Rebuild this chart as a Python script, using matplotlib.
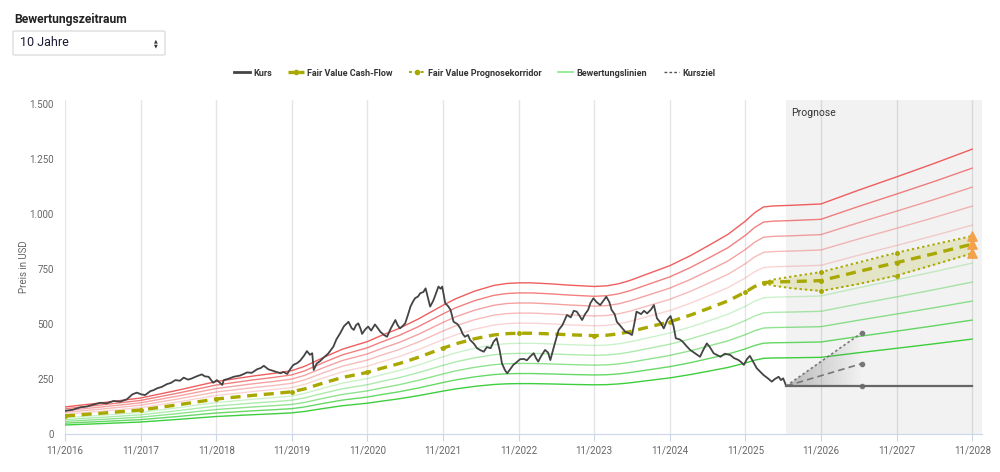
import matplotlib
matplotlib.use("Agg")
import matplotlib.pyplot as plt
from matplotlib.lines import Line2D
from matplotlib.patches import FancyBboxPatch, Polygon
import numpy as np

plt.rcParams['font.family'] = ['Roboto', 'DejaVu Sans']

# Kurs (Jahr als Dezimalzahl, Preis in USD)
kurs_jahr = [2016.83, 2016.93, 2017.03, 2017.12, 2017.20, 2017.30, 2017.38, 2017.47, 2017.56, 2017.65,
             2017.72, 2017.78, 2017.84, 2017.89, 2017.96, 2018.00, 2018.05, 2018.11, 2018.18, 2018.23,
             2018.29, 2018.35, 2018.40, 2018.46, 2018.51, 2018.57, 2018.64, 2018.68, 2018.73, 2018.79,
             2018.84, 2018.91, 2018.93, 2019.00, 2019.06, 2019.15, 2019.24, 2019.30, 2019.37, 2019.42,
             2019.46, 2019.52, 2019.60, 2019.68, 2019.72, 2019.77, 2019.81, 2019.85, 2019.90, 2019.94,
             2019.99, 2020.03, 2020.07, 2020.10, 2020.12, 2020.16, 2020.20, 2020.25, 2020.31, 2020.38,
             2020.42, 2020.47, 2020.52, 2020.58, 2020.62, 2020.65, 2020.68, 2020.71, 2020.74, 2020.76,
             2020.80, 2020.84, 2020.88, 2020.93, 2020.97, 2021.00, 2021.05, 2021.09, 2021.14, 2021.20,
             2021.23, 2021.26, 2021.30, 2021.33, 2021.37, 2021.40, 2021.43, 2021.46, 2021.50, 2021.53,
             2021.57, 2021.60, 2021.63, 2021.66, 2021.70, 2021.73, 2021.77, 2021.80, 2021.82, 2021.86,
             2021.90, 2021.93, 2021.97, 2022.02, 2022.06, 2022.09, 2022.12, 2022.16, 2022.19, 2022.24,
             2022.28, 2022.33, 2022.37, 2022.41, 2022.46, 2022.50, 2022.54, 2022.58, 2022.61, 2022.65,
             2022.68, 2022.72, 2022.76, 2022.80, 2022.85, 2022.90, 2022.94, 2022.98, 2023.03, 2023.06,
             2023.09, 2023.13, 2023.18, 2023.22, 2023.25, 2023.30, 2023.36, 2023.41, 2023.47, 2023.52,
             2023.56, 2023.60, 2023.64, 2023.67, 2023.71, 2023.75, 2023.78, 2023.82, 2023.86, 2023.91,
             2023.95, 2023.99, 2024.03, 2024.06, 2024.10, 2024.13, 2024.18, 2024.24, 2024.28, 2024.33,
             2024.36, 2024.39, 2024.45, 2024.49, 2024.53, 2024.58, 2024.62, 2024.66, 2024.71, 2024.75,
             2024.80, 2024.84, 2024.88, 2024.91, 2024.96, 2025.00, 2025.05, 2025.10, 2025.15, 2025.23,
             2025.27, 2025.32, 2025.36, 2025.41, 2025.45, 2025.50, 2025.56, 2025.63, 2025.68, 2025.74,
             2025.78, 2025.81, 2025.85, 2025.89, 2025.93, 2025.98, 2026.02, 2026.07, 2026.12, 2026.18,
             2026.22, 2026.27, 2026.30, 2026.33, 2026.37]
kurs_preis = [105, 110, 121, 125, 133, 142, 139, 150, 147, 158,
              180, 188, 180, 177, 195, 199, 208, 214, 227, 232,
              245, 242, 256, 247, 253, 262, 271, 262, 260, 233,
              245, 223, 245, 252, 260, 266, 280, 278, 294, 300,
              310, 294, 285, 276, 282, 273, 295, 314, 322, 333,
              355, 377, 360, 367, 291, 321, 330, 347, 365, 397,
              430, 458, 490, 510, 482, 473, 495, 503, 478, 455,
              475, 488, 470, 498, 480, 465, 450, 442, 480, 518,
              495, 480, 492, 503, 545, 579, 600, 617, 625, 640,
              645, 662, 620, 579, 605, 632, 670, 660, 670, 594,
              580, 564, 510, 500, 480, 455, 442, 450, 427, 410,
              390, 380, 374, 395, 390, 420, 435, 380, 321, 290,
              276, 295, 314, 325, 340, 341, 335, 351, 367, 345,
              329, 355, 382, 370, 336, 400, 473, 495, 541, 530,
              560, 556, 535, 518, 545, 564, 595, 617, 600, 586,
              605, 624, 600, 564, 545, 510, 490, 465, 460, 450,
              500, 556, 545, 560, 548, 565, 586, 526, 505, 480,
              520, 536, 490, 435, 430, 420, 400, 382, 370, 351,
              380, 412, 395, 367, 360, 351, 365, 359, 345, 336,
              325, 314, 340, 355, 330, 299, 285, 268, 255, 238,
              250, 260, 245, 253, 218]

# Fair Value Cash-Flow (historisch)
fv_jahr = [2016.83, 2017.33, 2017.83, 2018.33, 2018.83, 2019.33, 2019.6, 2019.83, 2020.0,
           2020.12, 2020.25, 2020.5, 2020.83, 2021.0, 2021.25, 2021.5, 2021.83, 2022.0,
           2022.25, 2022.5, 2022.67, 2022.83, 2023.0, 2023.25, 2023.5, 2023.83, 2024.0,
           2024.15, 2024.3, 2024.5, 2024.83, 2025.1, 2025.35, 2025.6, 2025.83, 2025.95, 2026.07]
fv_wert = [82, 95, 109, 133, 159, 176, 184, 192, 205,
           218, 232, 257, 280, 297, 320, 348, 390, 410,
           433, 450, 456, 458, 458, 455, 451, 447, 449,
           455, 465, 482, 510, 540, 572, 605, 645, 670, 688]

# Prognosekorridor
prog_jahr = [2026.07, 2026.2, 2026.45, 2026.83, 2027.33, 2027.83, 2028.33, 2028.83]
prog_mitte = [688, 691, 693, 697, 739, 779, 820, 863]
prog_oben = [688, 702, 716, 736, 780, 824, 862, 900]
prog_unten = [688, 674, 662, 650, 682, 720, 770, 821]

# Bewertungslinien als Vielfache des Fair Value
faktoren_gruen = [0.5, 0.6, 0.7, 0.8, 0.9]
faktoren_rot = [1.5, 1.4, 1.3, 1.2, 1.1]

# Kursziel
kursziel_jahr = [2026.37, 2027.37]
kursziel_hoch = [218, 460]
kursziel_mittel = [218, 320]
kursziel_tief = [218, 218]
letzter_kurs_jahr = [2026.37, 2028.83]
letzter_kurs = [218, 218]

prognose_start = 2026.37
x_ticks = [2016.83 + i for i in range(13)]
x_labels = [f"11/{2016 + i}" for i in range(13)]
y_ticks = [0, 250, 500, 750, 1000, 1250, 1500]
y_labels = ["0", "250", "500", "750", "1.000", "1.250", "1.500"]

olive = "#a8a800"
kurs_farbe = "#444444"

fig = plt.figure(figsize=(10, 4.72), dpi=100)
ax = fig.add_axes([0.065, 1 - 434 / 472, 0.917, 334 / 472])

# Prognose Hintergrund
ax.axvspan(prognose_start, 2030, color="#f2f2f2", zorder=0, lw=0)
for xt in x_ticks:
    ax.axvline(xt, color="black", alpha=0.1, lw=1, zorder=0.5)
ax.text(prognose_start + 0.07, 1460, "Prognose", fontsize=7.5, color="#333333", va="center")

# Bewertungslinien
alle_jahr = np.array(fv_jahr + prog_jahr[1:])
alle_fv = np.array(fv_wert + prog_mitte[1:])
alphas = [0.95, 0.75, 0.55, 0.4, 0.25]
for f, a in zip(faktoren_rot, alphas):
    ax.plot(alle_jahr, alle_fv * f, color="#ee5555", alpha=a, lw=1, zorder=2)
for f, a in zip(faktoren_gruen, alphas):
    ax.plot(alle_jahr, alle_fv * f, color="#33cc33", alpha=a, lw=1, zorder=2)

# Prognosekorridor
marks = [3, 5]
ax.fill_between(prog_jahr, prog_unten, prog_oben, color=olive, alpha=0.18, lw=0, zorder=2.5)
ax.plot(prog_jahr, prog_oben, color=olive, lw=1.4, ls=(0, (1.2, 1.5)), marker="o", ms=2.5,
        markevery=marks, zorder=3)
ax.plot(prog_jahr, prog_unten, color=olive, lw=1.4, ls=(0, (1.2, 1.5)), marker="o", ms=2.5,
        markevery=marks, zorder=3)
ax.plot(prog_jahr, prog_mitte, color=olive, lw=2.4, ls=(0, (3, 2)), marker="o", ms=2.5,
        markevery=[0] + marks, zorder=3)

# Fair Value historisch
fv_marks = [i for i, y in enumerate(fv_jahr) if abs((y - 2016.83) % 1) < 0.01]
ax.plot(fv_jahr, fv_wert, color=olive, lw=2.4, ls=(0, (3, 2)), marker="o", ms=2.5,
        markevery=fv_marks, zorder=3)

# Kursziel mit Verlauf
grad = np.linspace(0.45, 0.0, 100).reshape(1, -1)
rgba = np.zeros((1, 100, 4))
rgba[..., :3] = 0.45
rgba[..., 3] = grad
img = ax.imshow(rgba, extent=[kursziel_jahr[0], kursziel_jahr[1], 218, 460], aspect="auto",
                zorder=2.6, interpolation="bilinear")
tri = Polygon([[kursziel_jahr[0], kursziel_tief[0]], [kursziel_jahr[1], kursziel_hoch[1]],
               [kursziel_jahr[1], kursziel_tief[1]]], closed=True, transform=ax.transData)
img.set_clip_path(tri)
ax.plot(kursziel_jahr, kursziel_hoch, color="#777777", lw=1.2, ls=(0, (1.5, 1.5)), zorder=3)
ax.plot(kursziel_jahr, kursziel_mittel, color="#777777", lw=1.2, ls=(0, (4, 2.5)), zorder=3)
ax.plot(kursziel_jahr, kursziel_tief, color="#777777", lw=1.2, ls=(0, (1.5, 1.5)), zorder=3)
ax.scatter([kursziel_jahr[1]] * 3, [kursziel_hoch[1], kursziel_mittel[1], kursziel_tief[1]],
           s=9, color="#777777", zorder=4)

# Kurs
ax.plot(kurs_jahr, kurs_preis, color=kurs_farbe, lw=1.3, zorder=4)
ax.plot(letzter_kurs_jahr, letzter_kurs, color="#666666", lw=1.6, zorder=4)

# Kursziele am Ende
ax.scatter([prog_jahr[-1]] * 3, [prog_oben[-1], prog_mitte[-1], prog_unten[-1]], marker="^",
           s=45, color="#f5a04a", zorder=5, clip_on=False)

ax.set_xlim(2016.83, 2028.96)
ax.set_ylim(0, 1518)
ax.set_xticks(x_ticks)
ax.set_xticklabels(x_labels)
ax.set_yticks(y_ticks)
ax.set_yticklabels(y_labels)
ax.tick_params(axis="x", length=5, color="#ccd6eb", labelsize=7, labelcolor="#666666", pad=3)
ax.tick_params(axis="y", length=0, labelsize=7, labelcolor="#666666", pad=8)
for s in ["top", "right", "left"]:
    ax.spines[s].set_visible(False)
ax.spines["bottom"].set_color("#ccd6eb")
ax.set_ylabel("Preis in USD", fontsize=7, color="#666666")
ax.yaxis.set_label_coords(-0.039, 0.5)

# Legende
handles = [
    Line2D([], [], color=kurs_farbe, lw=2),
    Line2D([], [], color=olive, lw=2.4, ls=(0, (2, 1.2)), marker="o", ms=3),
    Line2D([], [], color=olive, lw=1.4, ls=(0, (1.5, 1.5)), marker="o", ms=3),
    Line2D([], [], color="#88e888", lw=1.2),
    Line2D([], [], color="#555555", lw=1, ls=(0, (2, 1.5))),
]
labels = ["Kurs", "Fair Value Cash-Flow", "Fair Value Prognosekorridor", "Bewertungslinien", "Kursziel"]
leg = fig.legend(handles, labels, loc="center", bbox_to_anchor=(0.475, 1 - 73 / 472), ncol=5,
                 frameon=False, fontsize=6.5, handlelength=1.7, columnspacing=1.8,
                 handletextpad=0.4)
for t in leg.get_texts():
    t.set_color("#333333")
    t.set_fontweight("bold")

# Kopfbereich
fig.text(0.014, 1 - 19 / 472, "Bewertungszeitraum", fontsize=8.7, fontweight="bold",
         color="#222222", va="center")
box = FancyBboxPatch((0.013, 1 - 55 / 472), 0.152, 24 / 472, boxstyle="round,pad=0,rounding_size=0.002",
                     transform=fig.transFigure, facecolor="white", edgecolor="#dddddd", lw=1)
fig.patches.append(box)
fig.text(0.020, 1 - 43 / 472, "10 Jahre", fontsize=9, color="#1a1a33", va="center")
fig.text(0.156, 1 - 40.5 / 472, "\u25B2", fontsize=3.5, color="#333333", ha="center", va="center")
fig.text(0.156, 1 - 45.5 / 472, "\u25BC", fontsize=3.5, color="#333333", ha="center", va="center")

fig.savefig("out.png", dpi=100)
